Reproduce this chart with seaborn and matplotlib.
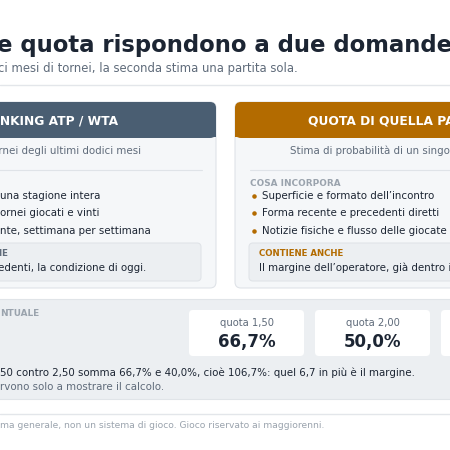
import matplotlib
matplotlib.use("Agg")
import matplotlib.pyplot as plt
from matplotlib.patches import FancyBboxPatch
import seaborn as sns

sns.set_theme(style="white")
plt.rcParams['font.family'] = ['DejaVu Sans']

# data
odds_labels = ["quota 1,50", "quota 2,00", "quota 2,50"]
implied_pct = [66.7, 50.0, 40.0]
left_bullets = ["una stagione intera", "ornei giocati e vinti", "nte, settimana per settimana"]
right_bullets = ["Superficie e formato dell\u2019incontro", "Forma recente e precedenti diretti",
                 "Notizie fisiche e flusso delle giocate"]

DARK = "#1c2533"
GRAY = "#5f6b7a"
LIGHT = "#9aa3ad"
SLATE = "#4a5e72"
ORANGE = "#b36b00"
BODY = 7.4


def box(ax, x, y, w, h, fc, ec="none", r=6, lw=0.8):
    ax.add_patch(FancyBboxPatch((x + r, y + r), w - 2 * r, h - 2 * r,
                                boxstyle=f"round,pad={r}", fc=fc, ec=ec, lw=lw))


def main():
    fig = plt.figure(figsize=(4.5, 4.5), dpi=100)
    ax = fig.add_axes([0, 0, 1, 1])
    ax.set_xlim(0, 450)
    ax.set_ylim(450, 0)
    ax.axis("off")

    # title
    ax.text(-3, 52, "e quota rispondono a due domande diverse", fontsize=16.4,
            fontweight="bold", color=DARK)
    ax.text(-2, 72, "ci mesi di tornei, la seconda stima una partita sola.",
            fontsize=8.4, color=GRAY)
    ax.plot([0, 450], [85, 85], color="#e3e6ea", lw=1)

    # left card
    box(ax, -40, 102, 256, 186, "#f5f7f9", "#dfe3e8")
    box(ax, -40, 102, 256, 36, SLATE)
    ax.add_patch(plt.Rectangle((-40, 125), 256, 12, fc=SLATE, ec="none"))
    ax.text(118, 124, "RANKING ATP / WTA", fontsize=8.8, fontweight="bold",
            color="white", ha="right")
    ax.text(-12, 154, "tornei degli ultimi dodici mesi", fontsize=BODY, color=GRAY)
    ax.plot([-10, 202], [170, 170], color="#dfe3e8", lw=0.8)
    for i, t in enumerate(left_bullets):
        ax.text(0, 199 + i * 17.3, t, fontsize=BODY, color=DARK)
    box(ax, -30, 243, 231, 38, "#eceff2", "#e0e4e8", r=4)
    ax.text(8, 256, "NON CONTIENE", fontsize=6.2, fontweight="bold", color=GRAY, ha="right")
    ax.text(-2, 271, "edenti, la condizione di oggi.", fontsize=BODY, color=DARK)

    # right card
    box(ax, 235, 102, 256, 186, "#f5f7f9", "#dfe3e8")
    box(ax, 235, 102, 256, 36, ORANGE)
    ax.add_patch(plt.Rectangle((235, 125), 256, 12, fc=ORANGE, ec="none"))
    ax.text(308, 124, "QUOTA DI QUELLA PARTITA", fontsize=8.8, fontweight="bold", color="white")
    ax.text(290, 154, "Stima di probabilit\u00e0 di un singolo incontro", fontsize=BODY, color=GRAY)
    ax.plot([250, 460], [170, 170], color="#dfe3e8", lw=0.8)
    ax.text(250, 186, "COSA INCORPORA", fontsize=6.4, fontweight="bold", color=LIGHT)
    for i, t in enumerate(right_bullets):
        yy = 196 + i * 17.3
        ax.scatter([254], [yy], s=5, color=ORANGE)
        ax.text(262, yy + 3, t, fontsize=BODY, color=DARK)
    box(ax, 249, 243, 231, 38, "#eceff2", "#e0e4e8", r=4)
    ax.text(259, 256, "CONTIENE ANCHE", fontsize=6.2, fontweight="bold", color=ORANGE)
    ax.text(259, 271, "Il margine dell\u2019operatore, gi\u00e0 dentro il prezzo.", fontsize=BODY, color=DARK)

    # bottom panel
    ax.add_patch(plt.Rectangle((-5, 299), 460, 100, fc="#eceff2", ec="#e0e4e8", lw=0.8))
    ax.text(0, 316, "NTUALE", fontsize=6.4, fontweight="bold", color=LIGHT)
    for i, (lab, p) in enumerate(zip(odds_labels, implied_pct)):
        x0 = 189 + i * 126
        box(ax, x0, 310, 115, 46, "white", r=4)
        cx = x0 + 57.5
        ax.text(cx, 326, lab, fontsize=7.2, color=GRAY, ha="center")
        ax.text(cx, 347, f"{p:.1f}%".replace(".", ","), fontsize=12, fontweight="bold",
                color=DARK, ha="center")
    ax.text(0, 376, "50 contro 2,50 somma 66,7% e 40,0%, cio\u00e8 106,7%: quel 6,7 in pi\u00f9 \u00e8 il margine.",
            fontsize=BODY, color=DARK)
    ax.text(0, 390, "rvono solo a mostrare il calcolo.", fontsize=BODY, color=GRAY)

    # footer
    ax.plot([0, 450], [414, 414], color="#e3e6ea", lw=1)
    ax.text(0, 428, "ma generale, non un sistema di gioco. Gioco riservato ai maggiorenni.",
            fontsize=6.6, color=LIGHT)

    fig.savefig("out.png", dpi=100, facecolor="white")


if __name__ == "__main__":
    main()
